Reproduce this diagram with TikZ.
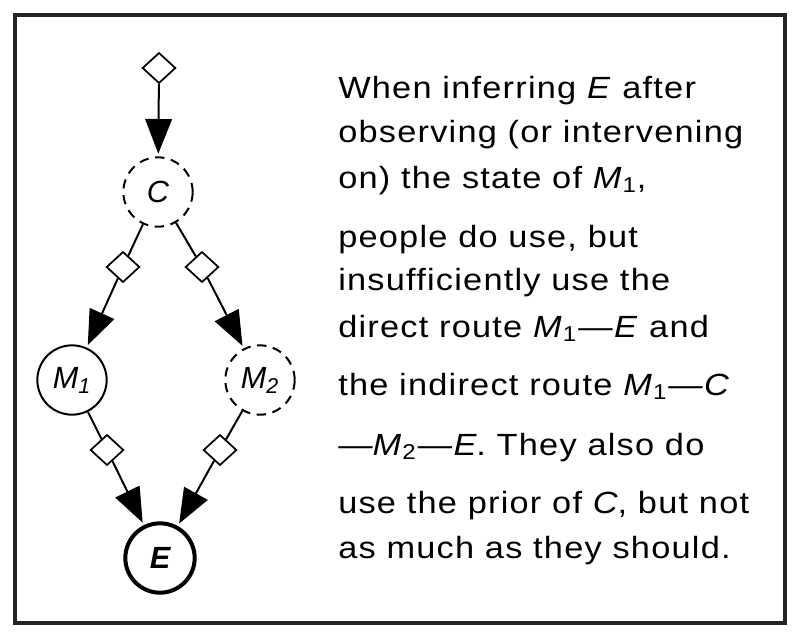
\documentclass[tikz,border=0pt]{standalone}
\usepackage{fontspec}
\setmainfont{Liberation Sans}
\newfontfamily\capfont{Liberation Sans}[FakeStretch=1.12, LetterSpace=4]
\usetikzlibrary{shapes.geometric,arrows.meta}
\tikzset{
  var/.style={circle, draw, line width=1.5pt, minimum size=52pt, inner sep=0pt,
    font=\fontsize{23}{26}\selectfont\itshape},
  hidden/.style={var, dash pattern=on 7pt off 5pt},
  effect/.style={var, line width=3pt, font=\fontsize{23}{26}\selectfont\bfseries\itshape},
  intv/.style={diamond, draw, fill=white, line width=1.3pt, inner sep=0pt,
    minimum width=25pt, minimum height=23pt},
  link/.style={line width=1.5pt},
  arr/.style={link, -{Triangle[length=26pt,width=20pt]}, shorten >=2pt},
  txt/.style={anchor=base west, inner sep=0pt, font=\capfont\fontsize{23}{27}\selectfont}
}
\newcommand{\rt}{\kern1pt—\kern1pt}
\begin{document}
\begin{tikzpicture}[x=0.75pt, y=-0.75pt]
  \useasboundingbox (0,0) rectangle (800,637);
  \draw[line width=2.4pt, black!85] (15,15) rectangle (785,623);
  % graph
  \node[intv] (dC) at (159,68) {};
  \node[hidden] (C) at (158,192) {C};
  \node[var] (M1) at (72,380) {M\textsubscript{1}};
  \node[hidden] (M2) at (260,380) {M\textsubscript{2}};
  \node[effect] (E) at (160,558) {E};
  \node[intv] (dCM1) at (123,267) {};
  \node[intv] (dCM2) at (202,267) {};
  \node[intv] (dM1E) at (107,450) {};
  \node[intv] (dM2E) at (220,450) {};
  \draw[arr] (dC) -- (C);
  \draw[link] (C) -- (dCM1);
  \draw[arr] (dCM1) -- (M1);
  \draw[link] (C) -- (dCM2);
  \draw[arr] (dCM2) -- (M2);
  \draw[link] (M1) -- (dM1E);
  \draw[arr] (dM1E) -- (E);
  \draw[link] (M2) -- (dM2E);
  \draw[arr] (dM2E) -- (E);
  % caption
  \node[txt] (l1) at (338,98) {When inferring \textit{E} after};
  \node[txt] (l2) at (338,142) {observing (or intervening};
  \node[txt] (l3) at (338,188) {on) the state of \textit{M}\textsubscript{1},};
  \node[txt] (l4) at (338,247) {people do use, but};
  \node[txt] (l5) at (338,290) {insufficiently use the};
  \node[txt] (l6) at (338,337) {direct route \textit{M}\textsubscript{1}\rt\textit{E} and};
  \node[txt] (l7) at (338,395) {the indirect route \textit{M}\textsubscript{1}\rt\textit{C}};
  \node[txt] (l8) at (338,455) {—\textit{M}\textsubscript{2}\rt\textit{E}. They also do};
  \node[txt] (l9) at (338,513) {use the prior of \textit{C}, but not};
  \node[txt] (l10) at (338,558) {as much as they should.};
\end{tikzpicture}
\end{document}
